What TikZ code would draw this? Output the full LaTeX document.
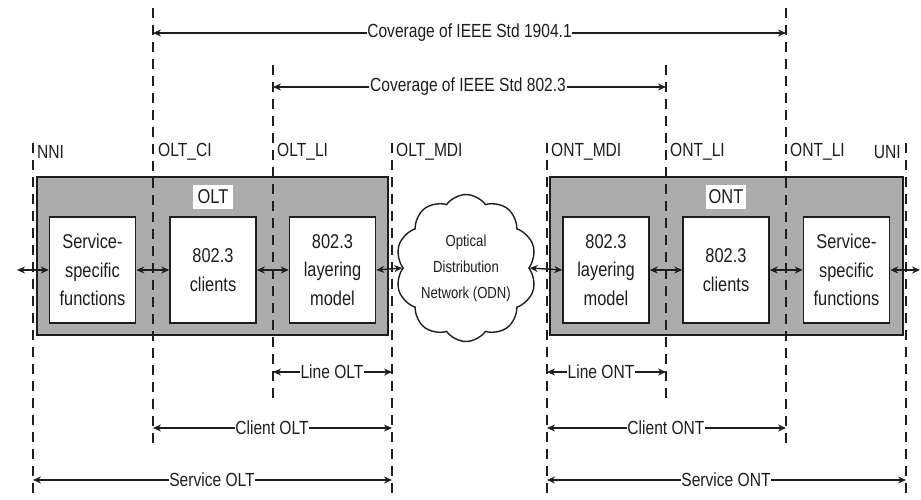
\documentclass[tikz,border=0pt]{standalone}
\usepackage{fontspec}
\setmainfont{Liberation Sans}[FakeStretch=0.82]
\usetikzlibrary{arrows.meta,shapes.symbols}
\definecolor{ink}{RGB}{30,30,30}
\definecolor{boxgray}{RGB}{172,172,172}
\begin{document}
\begin{tikzpicture}[x=1pt,y=-1pt,
  every node/.style={text=ink},
  vline/.style={draw=ink,line width=1.1pt,dash pattern=on 10pt off 7pt},
  hdr/.style={font=\fontsize{19}{21}\selectfont,anchor=west,inner sep=0pt},
  dim/.style={draw=ink,line width=1.3pt,-{Stealth[length=8pt,width=7pt]}},
  dimlab/.style={font=\fontsize{19}{21}\selectfont,inner sep=0.5pt,fill=white},
  unit/.style={draw=ink,line width=2pt,fill=boxgray,minimum width=351pt,minimum height=158pt,inner sep=0pt},
  unitlab/.style={fill=white,font=\fontsize{20}{22}\selectfont,minimum width=40pt,minimum height=24pt,inner sep=0pt},
  func/.style={draw=ink,line width=1.5pt,fill=white,minimum width=86pt,minimum height=106pt,align=center,inner sep=0pt,font=\fontsize{20}{28.5}\selectfont},
  link/.style={draw=ink,line width=1.4pt,{Stealth[length=8pt,width=7pt]}-{Stealth[length=8pt,width=7pt]}}
]
\useasboundingbox (0,0) rectangle (921,499);

% grey units
\node[unit] (olt) at (212.5,256) {};
\node[unit,minimum width=353pt] (ont) at (726.5,256) {};
\node[unitlab] (oltlab) at (213,197) {OLT};
\node[unitlab] (ontlab) at (726,197) {ONT};

% function boxes
\node[func] (ssf1) at (92.5,270) {Service-\\specific\\functions};
\node[func] (cli1) at (213,270) {802.3\\clients};
\node[func] (lay1) at (332.5,270) {802.3\\layering\\model};
\node[func] (lay2) at (606,270) {802.3\\layering\\model};
\node[func] (cli2) at (726,270) {802.3\\clients};
\node[func] (ssf2) at (846.5,270) {Service-\\specific\\functions};

% cloud
\node[cloud,draw=ink,line width=1.4pt,fill=white,cloud puffs=10,cloud puff arc=110,
  minimum width=125pt,minimum height=147pt,inner sep=0pt,align=center,
  font=\fontsize{16}{26}\selectfont] (odn) at (466,268)
  {Optical\\Distribution\\Network (ODN)};

% vertical dashed reference lines
\draw[vline] (33,143) -- (33,497);
\draw[vline] (153,8) -- (153,443);
\draw[vline] (273,65) -- (273,398);
\draw[vline] (392,143) -- (392,497);
\draw[vline] (547,143) -- (547,497);
\draw[vline] (666,65) -- (666,398);
\draw[vline] (786,8) -- (786,443);
\draw[vline] (906,143) -- (906,497);

% reference point labels
\node[hdr] (nni) at (37,152) {NNI};
\node[hdr] (oltci) at (158,152) {OLT\_CI};
\node[hdr] (oltli) at (277,152) {OLT\_LI};
\node[hdr] (oltmdi) at (396,152) {OLT\_MDI};
\node[hdr] (ontmdi) at (551,152) {ONT\_MDI};
\node[hdr] (ontli) at (670,152) {ONT\_LI};
\node[hdr] (ontli2) at (790,152) {ONT\_LI};
\node[hdr,anchor=east] (uni) at (901,152) {UNI};

% links between blocks
\coordinate (inL) at (17,270);
\coordinate (outR) at (920,270);
\draw[link] (inL) -- (ssf1.west);
\draw[link] (ssf1.east) -- (cli1.west);
\draw[link] (cli1.east) -- (lay1.west);
\draw[link] (lay1.east) -- (odn.west);
\draw[link] (odn.east) -- (lay2.west);
\draw[link] (lay2.east) -- (cli2.west);
\draw[link] (cli2.east) -- (ssf2.west);
\draw[link] (ssf2.east) -- (outR);

% dimension arrows
\newcommand{\dimarrow}[6]{%
  \coordinate (#1L) at (#2,#4);
  \coordinate (#1R) at (#3,#4);
  \node[dimlab] (#1) at (#5,#4) {#6};
  \draw[dim] (#1.west) -- (#1L);
  \draw[dim] (#1.east) -- (#1R);}
\dimarrow{cova}{153}{786}{33}{469.5}{Coverage of IEEE Std 1904.1}
\dimarrow{covb}{273}{666}{87}{468}{Coverage of IEEE Std 802.3}
\dimarrow{lolt}{273}{392}{372}{332}{Line OLT}
\dimarrow{colt}{153}{392}{428}{272}{Client OLT}
\dimarrow{solt}{33}{392}{480}{212}{Service OLT}
\dimarrow{lont}{547}{666}{372}{601}{Line ONT}
\dimarrow{cont}{547}{786}{428}{666}{Client ONT}
\dimarrow{sont}{547}{906}{480}{726}{Service ONT}
\end{tikzpicture}
\end{document}
